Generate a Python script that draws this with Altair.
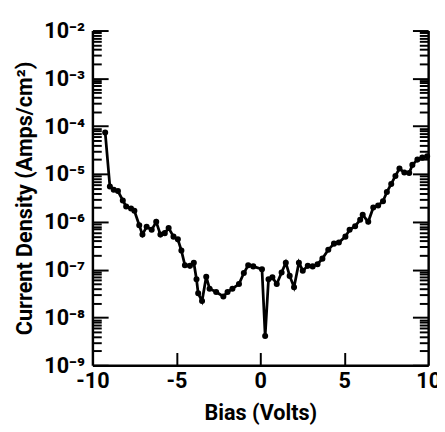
import altair as alt
import pandas as pd

bias = [-9.24, -8.96, -8.73, -8.48, -8.19, -7.99, -7.70, -7.50, -7.21, -7.02,
        -6.77, -6.47, -6.20, -5.95, -5.69, -5.46, -5.17, -4.91, -4.70, -4.49,
        -4.19, -3.96, -3.80, -3.70, -3.47, -3.22, -3.02, -2.63, -2.20, -1.95,
        -1.66, -1.27, -0.98, -0.72, -0.42, 0.10, 0.29, 0.49, 0.72, 0.98,
        1.27, 1.52, 1.75, 2.01, 2.30, 2.53, 2.83, 3.12, 3.41, 3.70,
        4.05, 4.39, 4.68, 5.07, 5.32, 5.65, 5.95, 6.10, 6.43, 6.73,
        7.02, 7.31, 7.54, 7.80, 8.05, 8.29, 8.58, 8.87, 9.06, 9.36,
        9.65, 9.94]
current = [7.4e-5, 5.5e-6, 4.7e-6, 4.4e-6, 2.8e-6, 2.1e-6, 1.9e-6, 1.7e-6, 8.5e-7, 5.4e-7,
           7.9e-7, 6.8e-7, 1.0e-6, 5.4e-7, 5.8e-7, 7.4e-7, 4.9e-7, 4.3e-7, 2.5e-7, 1.23e-7,
           1.2e-7, 1.4e-7, 6.3e-8, 3.2e-8, 2.2e-8, 7.1e-8, 4.0e-8, 3.4e-8, 2.75e-8, 3.4e-8,
           4.0e-8, 5.0e-8, 8.5e-8, 1.23e-7, 1.17e-7, 1.02e-7, 4.1e-9, 6.3e-8, 6.9e-8, 5.0e-8,
           8.7e-8, 1.4e-7, 7.4e-8, 4.3e-8, 1.4e-7, 9.5e-8, 1.2e-7, 1.17e-7, 1.3e-7, 1.7e-7,
           2.6e-7, 3.5e-7, 3.7e-7, 4.9e-7, 6.8e-7, 8.1e-7, 1.1e-6, 1.4e-6, 1.0e-6, 2.0e-6,
           2.2e-6, 2.7e-6, 4.2e-6, 6.2e-6, 9.1e-6, 1.3e-5, 1.07e-5, 1.05e-5, 1.55e-5, 2.0e-5,
           2.2e-5, 2.35e-5]

x_labels = [-10, -5, 0, 5, 10]
x_inner_ticks = [-5, 0, 5]
y_major = [1e-9, 1e-8, 1e-7, 1e-6, 1e-5, 1e-4, 1e-3, 1e-2]
y_minor = [k * 10.0 ** e for e in range(-9, -2) for k in range(2, 10)]

df = pd.DataFrame({"bias": bias, "current": current})

FONT = "Roboto"
W, H = 342, 341

xscale = alt.Scale(domain=[-10, 10], nice=False)
yscale = alt.Scale(type="log", domain=[1e-9, 1e-2], nice=False)

label_expr = "'10' + ['⁰','⁻¹','⁻²','⁻³','⁻⁴','⁻⁵','⁻⁶','⁻⁷','⁻⁸','⁻⁹'][round(-log(datum.value)/LN10)]"

base = alt.Chart(df)

main = base.mark_line(color="black", strokeWidth=2.8).encode(
    x=alt.X("bias:Q", scale=xscale, title="Bias (Volts)",
            axis=alt.Axis(orient="bottom", values=x_labels, ticks=False, domain=True,
                          labelExpr="'' + datum.value",
                          domainColor="black", domainWidth=2.5, labelFont=FONT,
                          labelFontSize=22, labelColor="black", labelPadding=6,
                          labelFontWeight="bold", titleFont=FONT, titleFontSize=22,
                          titleFontWeight="bold", titleColor="black", titlePadding=11,
                          grid=False, labelFlush=False)),
    y=alt.Y("current:Q", scale=yscale, title="Current Density (Amps/cm²)",
            axis=alt.Axis(orient="left", values=y_major, labelExpr=label_expr, ticks=False,
                          domain=True, domainColor="black", domainWidth=2.5, labelFont=FONT,
                          labelFontSize=22, labelColor="black", labelPadding=8,
                          labelFontWeight="bold", titleFont=FONT, titleFontSize=22,
                          titleFontWeight="bold", titleColor="black", titlePadding=8,
                          grid=False, labelFlush=False)),
)

pts = base.mark_circle(color="black", size=38, opacity=1).encode(
    x=alt.X("bias:Q", scale=xscale, axis=None),
    y=alt.Y("current:Q", scale=yscale, axis=None),
)


def tick_layer(yorient, yvalues, ysize, domain=False, xaxis=None):
    return base.mark_line(opacity=0).encode(
        x=alt.X("bias:Q", scale=xscale, axis=xaxis),
        y=alt.Y("current:Q", scale=yscale,
                axis=alt.Axis(orient=yorient, offset=-W, values=yvalues, labels=False,
                              ticks=True, tickSize=ysize, tickWidth=2, tickColor="black",
                              domain=domain, domainColor="black", domainWidth=2.5,
                              grid=False, title=None)),
    )


top_x_axis = alt.Axis(orient="top", offset=-H, values=x_inner_ticks, labels=False, ticks=True,
                      tickSize=13, tickWidth=2, tickColor="black", domain=False,
                      grid=False, title=None)

l3 = tick_layer("right", y_major, 16, xaxis=top_x_axis)
l4 = tick_layer("right", y_minor, 9)
l5 = tick_layer("left", y_major, 16, domain=True)
l6 = tick_layer("left", y_minor, 9)

chart = alt.layer(main, pts, l3, l4, l5, l6).resolve_axis(
    x="independent", y="independent"
).properties(
    width=W, height=H,
    autosize=alt.AutoSizeParams(type="none"),
    padding={"left": 86, "top": 19, "right": 9, "bottom": 64},
).configure_view(stroke=None)

chart.save("out.html", embed_options={"renderer": "svg", "actions": False})
